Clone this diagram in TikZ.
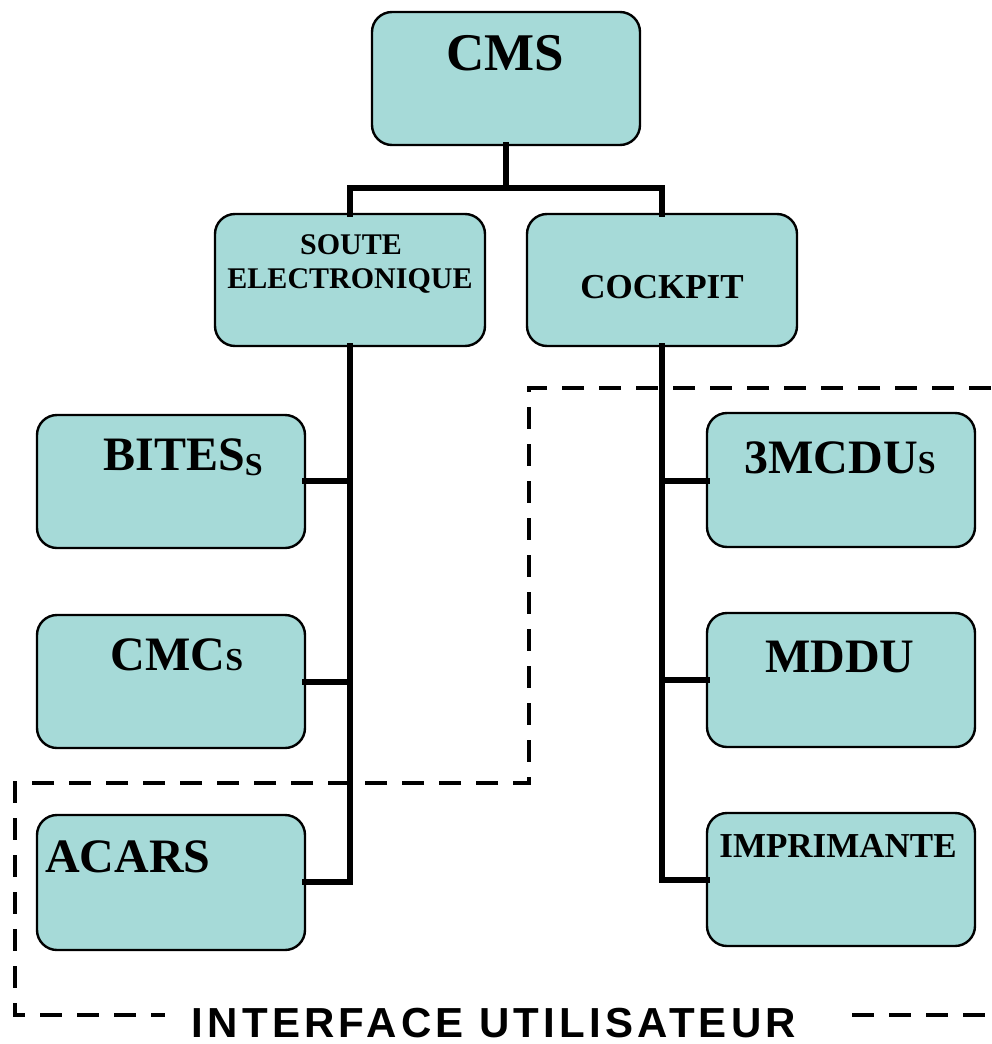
\documentclass[tikz,border=0pt]{standalone}
\usepackage{fontspec}
\setmainfont{Liberation Serif}
\newfontfamily\labelsans[LetterSpace=10]{Liberation Sans}
\definecolor{boxfill}{RGB}{166,218,216}
\tikzset{
  unitbox/.style={draw=black, line width=2.4pt, fill=boxfill, rounded corners=20pt},
  conn/.style={line width=5.5pt, line cap=rect},
  bound/.style={line width=4pt, dash pattern=on 22pt off 15pt},
  big/.style={font=\fontsize{48}{50}\selectfont\bfseries, inner sep=0pt},
  mid/.style={font=\fontsize{30}{34}\selectfont\bfseries, inner sep=0pt, align=center},
}
\newcommand{\smS}{{\fontsize{32}{32}\selectfont S}}
\begin{document}
\begin{tikzpicture}[x=1pt,y=-1pt]
\useasboundingbox (0,0) rectangle (991,1044);
% boxes
\draw[unitbox] (372,12) rectangle (640,145);
\draw[unitbox] (215,214) rectangle (485,346);
\draw[unitbox] (527,214) rectangle (797,346);
\draw[unitbox] (37,415) rectangle (305,548);
\draw[unitbox] (37,615) rectangle (305,748);
\draw[unitbox] (37,815) rectangle (305,950);
\draw[unitbox] (707,413) rectangle (975,547);
\draw[unitbox] (707,613) rectangle (975,747);
\draw[unitbox] (707,813) rectangle (975,946);
% anchors as coordinates
\coordinate (cmsB) at (506,145);
\coordinate (hub) at (506,188);
\coordinate (souteT) at (350,214);
\coordinate (cockT) at (662,214);
\coordinate (souteB) at (350,346);
\coordinate (cockB) at (662,346);
\coordinate (bitesR) at (305,481);
\coordinate (cmcR) at (305,682);
\coordinate (acarsR) at (305,882);
\coordinate (mcduL) at (707,481);
\coordinate (mdduL) at (707,680);
\coordinate (printL) at (707,880);
% connectors
\draw[conn] (cmsB) -- (hub);
\draw[conn] (souteT) |- (hub) -| (cockT);
\draw[conn] (souteB) -- (souteB |- acarsR) -- (acarsR);
\draw[conn] (bitesR) -- (souteB |- bitesR);
\draw[conn] (cmcR) -- (souteB |- cmcR);
\draw[conn] (cockB) -- (cockB |- printL) -- (printL);
\draw[conn] (mcduL) -- (cockB |- mcduL);
\draw[conn] (mdduL) -- (cockB |- mdduL);
% labels
\node[big, anchor=base, font=\fontsize{53}{55}\selectfont\bfseries] (cms) at (505,70) {CMS};
\node[mid, anchor=base] (soute1) at (351,254) {SOUTE};
\node[mid, anchor=base] (soute2) at (350,288) {ELECTRONIQUE};
\node[mid, anchor=base, font=\fontsize{35}{38}\selectfont\bfseries] (cock) at (662,298) {COCKPIT};
\node[big, anchor=base] (bites) at (183,470) {BITES\raisebox{-5pt}{\smS}};
\node[big, anchor=base] (cmc) at (177,670) {CMC\smS};
\node[big, anchor=base west] (acars) at (45,872) {ACARS};
\node[big, anchor=base] (mcdu) at (840,473) {3MCDU\smS};
\node[big, anchor=base] (mddu) at (840,672) {MDDU};
\node[anchor=base, inner sep=0pt, font=\fontsize{35}{38}\selectfont\bfseries] (print) at (838,857) {IMPRIMANTE};
% dashed user-interface boundary
\node[anchor=base, inner sep=0pt, font=\labelsans\fontsize{42}{44}\selectfont\bfseries] (ui) at (494,1037) {INTERFACE UTILISATEUR};
\coordinate (d1) at (991,388);
\coordinate (d2) at (529,388);
\coordinate (d3) at (529,783);
\coordinate (d4) at (15,783);
\coordinate (d5) at (15,1015);
\coordinate (d6) at (165,1015);
\coordinate (d7) at (852,1015);
\coordinate (d8) at (991,1015);
\draw[bound] (d1) -- (d2) -- (d3) -- (d4) -- (d5) -- (d6);
\draw[bound] (d7) -- (d8);
\end{tikzpicture}
\end{document}
